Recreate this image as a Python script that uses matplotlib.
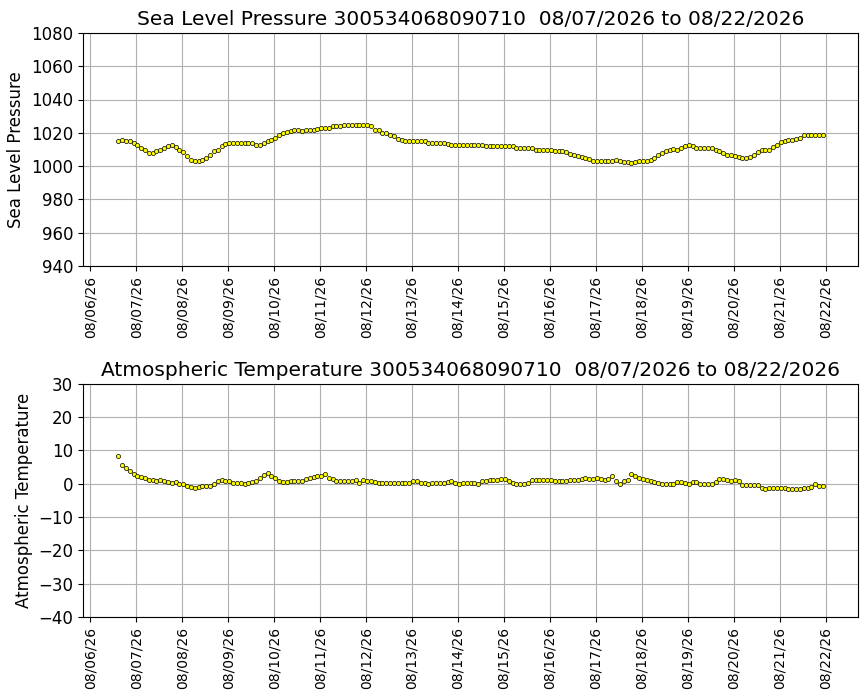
import numpy as np
import pandas as pd
import matplotlib
matplotlib.use('Agg')
import matplotlib.pyplot as plt
import matplotlib.dates as mdates

buoy_id = '300534068090710'
start_time = '2026-08-06 14:30'

pressure = [
    1015.3, 1015.5, 1015.3, 1014.9, 1013.9, 1012.7, 1010.8, 1009.4, 1008.0, 1007.8,
    1008.8, 1009.4, 1010.6, 1011.8, 1012.4, 1011.4, 1009.8, 1008.4, 1006.3, 1003.7,
    1003.0, 1003.0, 1003.7, 1004.7, 1006.5, 1008.8, 1009.8, 1012.2, 1013.3, 1013.9,
    1013.9, 1013.9, 1013.9, 1013.9, 1013.9, 1013.7, 1012.7, 1012.9, 1013.9, 1015.1,
    1015.9, 1016.9, 1018.4, 1019.6, 1020.4, 1021.2, 1021.4, 1021.4,
    1021.2, 1021.4, 1021.6, 1021.8, 1022.0, 1023.1, 1023.1, 1023.1, 1024.1, 1024.3,
    1024.3, 1024.7, 1024.9, 1024.9, 1024.9, 1024.9, 1024.7, 1024.5, 1024.1, 1021.6,
    1021.4, 1020.0, 1019.6, 1018.8, 1018.0, 1016.5, 1015.5, 1014.9, 1014.9, 1014.9,
    1014.9, 1015.3, 1014.9, 1013.9, 1013.9, 1013.9, 1013.9, 1013.9, 1013.1, 1012.9,
    1012.9, 1012.9, 1012.9, 1012.9, 1012.9, 1012.9, 1012.9, 1012.9, 1012.2,
    1012.2, 1012.2, 1012.2, 1012.2, 1012.2, 1012.2, 1012.2, 1010.8, 1010.8, 1010.8,
    1010.8, 1010.8, 1009.8, 1009.4, 1009.4, 1009.4, 1009.4, 1009.2, 1008.8, 1008.8,
    1008.2, 1007.3, 1006.7, 1006.3, 1005.7, 1004.7, 1004.1, 1003.3, 1003.0, 1003.0,
    1003.0, 1003.0, 1003.3, 1003.7, 1003.3, 1002.7, 1002.7, 1001.6, 1002.7, 1003.3,
    1003.3, 1003.3, 1003.7, 1004.7, 1006.7, 1007.8, 1008.8, 1009.4, 1010.2,
    1009.8, 1010.8, 1012.2, 1012.7, 1012.2, 1010.8, 1010.8, 1010.8, 1010.8, 1010.8,
    1009.8, 1008.8, 1007.8, 1006.7, 1006.7, 1006.1, 1005.7, 1004.7, 1004.7, 1005.7,
    1006.7, 1008.2, 1009.4, 1009.4, 1009.8, 1011.4, 1012.9, 1014.3, 1014.9, 1015.5,
    1015.5, 1016.5, 1016.9, 1018.4, 1018.4, 1018.4, 1018.4, 1018.4, 1018.4,
]

temperature = [
    8.2, 5.6, 4.6, 3.8, 2.8, 2.4, 2.1, 1.6, 1.1, 1.1,
    0.9, 1.1, 0.8, 0.6, 0.3, 0.6, -0.2, -0.2, -0.6, -1.1,
    -1.2, -1.1, -0.8, -0.8, -0.8, -0.1, 0.9, 1.1, 0.9, 0.8,
    0.1, 0.1, 0.1, -0.2, 0.1, 0.4, 0.8, 1.8, 2.6, 3.1,
    2.4, 1.6, 0.8, 0.4, 0.4, 0.8, 0.9, 0.9,
    0.8, 1.3, 1.7, 1.9, 2.2, 2.3, 2.8, 1.8, 1.3, 0.9,
    0.9, 0.7, 0.7, 0.8, 1.0, 0.2, 1.0, 0.9, 0.8, 0.5,
    0.2, 0.1, 0.1, 0.1, 0.1, 0.3, 0.3, 0.3, 0.3, 0.9,
    0.7, 0.3, 0.3, 0.0, 0.3, 0.3, 0.3, 0.3, 0.5, 0.7,
    0.3, 0.0, 0.3, 0.3, 0.3, 0.3, 0.0, 0.7, 0.9,
    1.0, 1.2, 1.2, 1.5, 1.3, 0.8, 0.3, 0.0, 0.0, 0.0,
    0.2, 1.2, 1.2, 1.2, 1.2, 1.0, 1.0, 0.8, 0.8, 0.7,
    0.7, 1.0, 1.0, 1.2, 1.3, 1.8, 1.5, 1.5, 1.8, 1.5,
    1.2, 1.3, 2.2, 0.8, 0.0, 0.8, 1.2, 2.8, 2.3, 1.8,
    1.3, 1.0, 0.7, 0.5, 0.3, 0.0, 0.0, 0.0, 0.0,
    0.5, 0.5, 0.3, 0.0, 0.5, 0.5, 0.0, 0.0, 0.0, 0.0,
    0.5, 1.3, 1.5, 1.2, 0.8, 1.2, 0.7, -0.3, -0.5, -0.5,
    -0.5, -0.5, -1.3, -1.7, -1.3, -1.2, -1.2, -1.2, -1.2, -1.5,
    -1.5, -1.5, -1.5, -1.3, -1.2, -1.0, -0.2, -0.7, -0.7,
]

times = pd.date_range(start=start_time, periods=len(pressure), freq='2h')

fig = plt.figure(figsize=(8.67, 7.0), dpi=100)
ax1 = fig.add_axes([0.0957, 0.62, 0.894, 0.333])
ax2 = fig.add_axes([0.0957, 0.1186, 0.894, 0.333])

panels = [
    (ax1, pressure, 'Sea Level Pressure', np.arange(940, 1081, 20)),
    (ax2, temperature, 'Atmospheric Temperature', np.arange(-40, 31, 10)),
]

for ax, values, name, yticks in panels:
    ax.scatter(times, values, s=9, c='yellow', edgecolors='black', linewidths=0.5, zorder=3)
    ax.set_yticks(yticks)
    ax.set_ylim(yticks[0], yticks[-1])
    ax.set_title(f'{name} {buoy_id}  08/07/2026 to 08/22/2026', fontsize=14.5)
    ax.set_ylabel(name, fontsize=12)
    ax.xaxis.set_major_locator(mdates.DayLocator())
    ax.xaxis.set_major_formatter(mdates.DateFormatter('%m/%d/%y'))
    ax.tick_params(axis='x', labelrotation=90, labelsize=10)
    ax.tick_params(axis='y', labelsize=12)
    ax.grid(True)

fig.savefig('out.png', dpi=100)
